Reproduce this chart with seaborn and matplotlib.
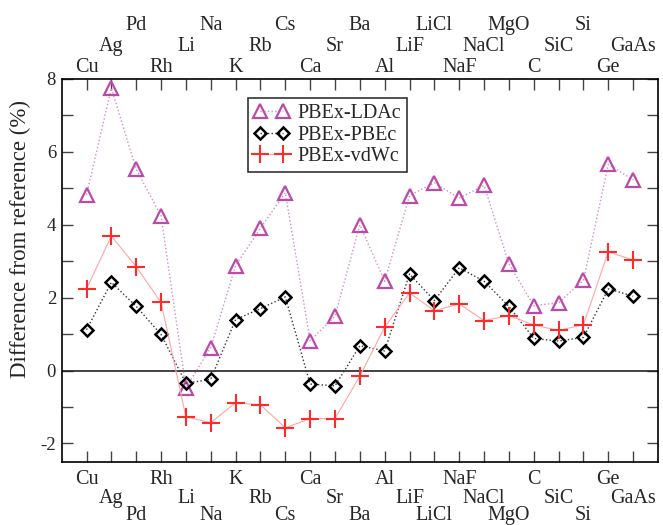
import matplotlib
matplotlib.use("Agg")
import matplotlib.pyplot as plt
import numpy as np
import pandas as pd
import seaborn as sns

# Relative deviation from reference lattice constants, per solid
categories = ["Cu", "Ag", "Pd", "Rh", "Li", "Na", "K", "Rb", "Cs", "Ca", "Sr", "Ba",
              "Al", "LiF", "LiCl", "NaF", "NaCl", "MgO", "C", "SiC", "Si", "Ge", "GaAs"]
pbex_ldac = [4.82, 7.75, 5.52, 4.24, -0.47, 0.63, 2.88, 3.91, 4.88, 0.82, 1.49, 4.00,
             2.45, 4.80, 5.15, 4.73, 5.08, 2.93, 1.78, 1.86, 2.48, 5.66, 5.23]
pbex_pbec = [1.12, 2.42, 1.76, 0.99, -0.35, -0.24, 1.40, 1.70, 2.02, -0.37, -0.42, 0.68,
             0.54, 2.65, 1.92, 2.82, 2.45, 1.76, 0.88, 0.81, 0.91, 2.24, 2.04]
pbex_vdwc = [2.24, 3.69, 2.85, 1.87, -1.27, -1.43, -0.88, -0.94, -1.57, -1.32, -1.32, -0.15,
             1.19, 2.13, 1.64, 1.83, 1.37, 1.51, 1.25, 1.10, 1.26, 3.26, 3.03]
series_names = ["PBEx-LDAc", "PBEx-PBEc", "PBEx-vdWc"]
y_label = "Difference from reference (%)"

sns.set_style("ticks")
plt.rcParams["font.family"] = ["Liberation Serif", "DejaVu Serif"]
plt.rcParams["mathtext.fontset"] = "stix"

pos = np.arange(1, len(categories) + 1)
df = pd.DataFrame({"pos": pos, "ldac": pbex_ldac, "pbec": pbex_pbec, "vdwc": pbex_vdwc})

fig = plt.figure(figsize=(6.63, 5.25), dpi=100)
ax = fig.add_axes([0.093, 0.1206, 0.8995, 0.729])

ax.axhline(0, color="#222222", lw=1.2, zorder=1)

sns.lineplot(data=df, x="pos", y="ldac", ax=ax, color="#d58acb", lw=1.0, linestyle=":",
             marker="^", markersize=10, markerfacecolor="none",
             markeredgecolor="#bb4aa8", markeredgewidth=1.6, label=series_names[0], zorder=3)
sns.lineplot(data=df, x="pos", y="pbec", ax=ax, color="#333333", lw=1.0, linestyle=":",
             marker="D", markersize=5.8, markerfacecolor="none",
             markeredgecolor="black", markeredgewidth=1.8, label=series_names[1], zorder=4)
sns.lineplot(data=df, x="pos", y="vdwc", ax=ax, color="#ffa5a5", lw=0.8, linestyle="-",
             marker="+", markersize=13, markerfacecolor="none",
             markeredgecolor="#ff2b2b", markeredgewidth=1.5, label=series_names[2], zorder=5)

ax.set_xlim(0, 24)
ax.set_ylim(-2.5, 8)
ax.set_xticks(pos)
ax.set_xticklabels([])
ax.set_yticks(np.arange(-2, 9, 1))
ax.set_yticklabels([str(v) if v % 2 == 0 else "" for v in range(-2, 9)])
ax.tick_params(axis="both", direction="in", length=8, width=1.0, color="#444444",
               top=True, right=True, labelsize=13.5, pad=4)
ax.set_xlabel("")
ax.set_ylabel(y_label, fontsize=16.5)
ax.yaxis.set_label_coords(-0.052, 0.582)
for s in ax.spines.values():
    s.set_linewidth(1.2)
    s.set_color("black")

# Staggered category names below and above the frame
below = [-16, -29.5, -42]
above = [5, 20, 35]
for i, name in enumerate(categories):
    r = i % 3
    ax.annotate(name, xy=(pos[i], 0), xycoords=("data", "axes fraction"),
                xytext=(0, below[r]), textcoords="offset points",
                ha="center", va="baseline", fontsize=14.5)
    ax.annotate(name, xy=(pos[i], 1), xycoords=("data", "axes fraction"),
                xytext=(0, above[r]), textcoords="offset points",
                ha="center", va="baseline", fontsize=14.5)

leg = ax.legend(loc="upper left", bbox_to_anchor=(0.312, 0.950), borderaxespad=0,
                numpoints=2, handlelength=1.75, handletextpad=0.4, borderpad=0.3,
                labelspacing=0.12, fontsize=14.5, frameon=True, fancybox=False)
leg.get_frame().set_edgecolor("black")
leg.get_frame().set_linewidth(1.2)

fig.savefig("out.png", dpi=100)
